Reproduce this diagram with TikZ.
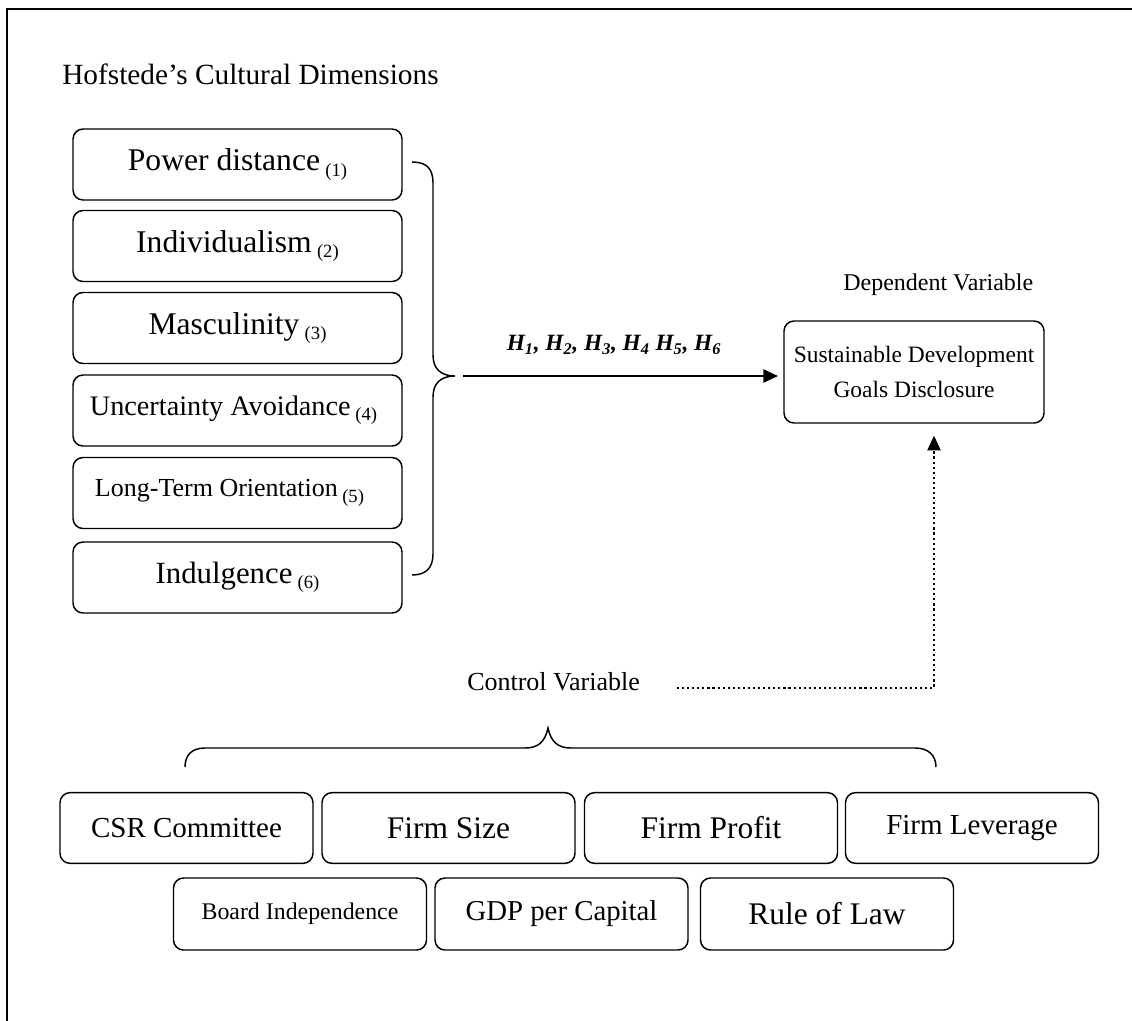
\documentclass[tikz,border=0pt]{standalone}
\usepackage{fontspec}
\setmainfont{Liberation Serif}
\usetikzlibrary{arrows.meta}
\newcommand{\fs}[1]{\fontsize{#1}{#1}\selectfont}
\newcommand{\idx}[1]{\,\raisebox{-4pt}{\fs{14pt}(#1)}}
\begin{document}
\begin{tikzpicture}[x=0.75pt,y=-0.75pt,
  box/.style={draw, line width=1.1pt, rounded corners=7.5pt, inner sep=0pt, align=center},
  lbox/.style={box, minimum width=246.75pt, minimum height=53.25pt},
  cbox/.style={box, minimum width=189.75pt, minimum height=53pt},
  lbl/.style={inner sep=0pt, font=\fs{18pt}},
  brace/.style={line width=1.1pt},
  tri/.style={-{Triangle[length=11pt,width=10pt]}}
]
\useasboundingbox (0,0) rectangle (1132,1021);
\draw[line width=1.5pt] (7,1021) -- (7,9) -- (1132,9);

\node[lbl, anchor=base west, font=\fs{22pt}] (hof) at (62,84) {Hofstede’s Cultural Dimensions};

\node[lbox, font=\fs{23.7pt}] (pd) at (237.5,164.5) {Power distance\idx{1}};
\node[lbox, font=\fs{23.7pt}] (ind) at (237.5,246) {Individualism\idx{2}};
\node[lbox, font=\fs{23.7pt}] (mas) at (237.5,328) {Masculinity\idx{3}};
\node[lbox, font=\fs{21.2pt}] (ua) at (237.5,410.5) {Uncertainty Avoidance\idx{4}\hspace*{6pt}};
\node[lbox, font=\fs{19.5pt}] (lto) at (237.5,493) {Long-Term Orientation\idx{5}\hspace*{12pt}};
\node[lbox, font=\fs{23.1pt}] (idg) at (237.5,577.5) {Indulgence\idx{6}};

\coordinate (btip) at (455,376);
\draw[brace] (412,162) .. controls (426,162) and (433,168) .. (433,183) -- (433,355)
  .. controls (433,368) and (440,376) .. (btip)
  .. controls (440,376) and (433,384) .. (433,397) -- (433,554)
  .. controls (433,568) and (426,575) .. (412,575);

\node[lbl, anchor=base west, font=\fs{18pt}] (dv) at (843,290) {Dependent Variable};
\node[box, minimum width=195pt, minimum height=76.5pt, font=\fontsize{17.6pt}{26pt}\selectfont] (sdg) at (914,372)
  {Sustainable Development\\Goals Disclosure};

\coordinate (astart) at (463,376);
\draw[line width=1.5pt, tri] (astart) -- ([xshift=-4pt]astart -| sdg.west);
\node[lbl, font=\fs{17.5pt}\bfseries\itshape] (hyp) at (614,345)
  {H\textsubscript{1}, H\textsubscript{2}, H\textsubscript{3}, H\textsubscript{4} H\textsubscript{5}, H\textsubscript{6}};

\node[lbl, anchor=base west, font=\fs{19.5pt}] (cv) at (467,690) {Control Variable};
\coordinate (dstart) at (677,688);
\coordinate (dcorner) at (934,688);
\draw[line width=1.6pt, dash pattern=on 1.6pt off 2.2pt] (dstart) -- (dcorner) -- ([yshift=-19pt]dcorner |- sdg.south);
\draw[tri, line width=1pt] ([yshift=-19pt]dcorner |- sdg.south) -- ([yshift=-9pt]dcorner |- sdg.south);

\coordinate (ctip) at (548,728);
\draw[brace] (185,767) .. controls (185,755) and (192,748) .. (205,748) -- (525,748)
  .. controls (538,748) and (545,742) .. (ctip)
  .. controls (551,742) and (558,748) .. (571,748) -- (915,748)
  .. controls (928,748) and (936,755) .. (936,767);

\node[cbox, font=\fs{21.75pt}] (csr) at (186.5,828) {CSR Committee};
\node[cbox, font=\fs{23.6pt}] (fsz) at (448.5,828) {Firm Size};
\node[cbox, font=\fs{23.6pt}] (fpr) at (711,828) {Firm Profit};
\node[cbox, font=\fs{21.75pt}] (flv) at (972,828) {Firm Leverage};
\node[cbox, font=\fs{17.9pt}, minimum height=54pt] (bi) at (300,914) {Board Independence};
\node[cbox, font=\fs{21.6pt}, minimum height=54pt] (gdp) at (561.5,914) {GDP per Capital};
\node[cbox, font=\fs{23.6pt}, minimum height=54pt] (rol) at (827,914) {Rule of Law};
\end{tikzpicture}
\end{document}
